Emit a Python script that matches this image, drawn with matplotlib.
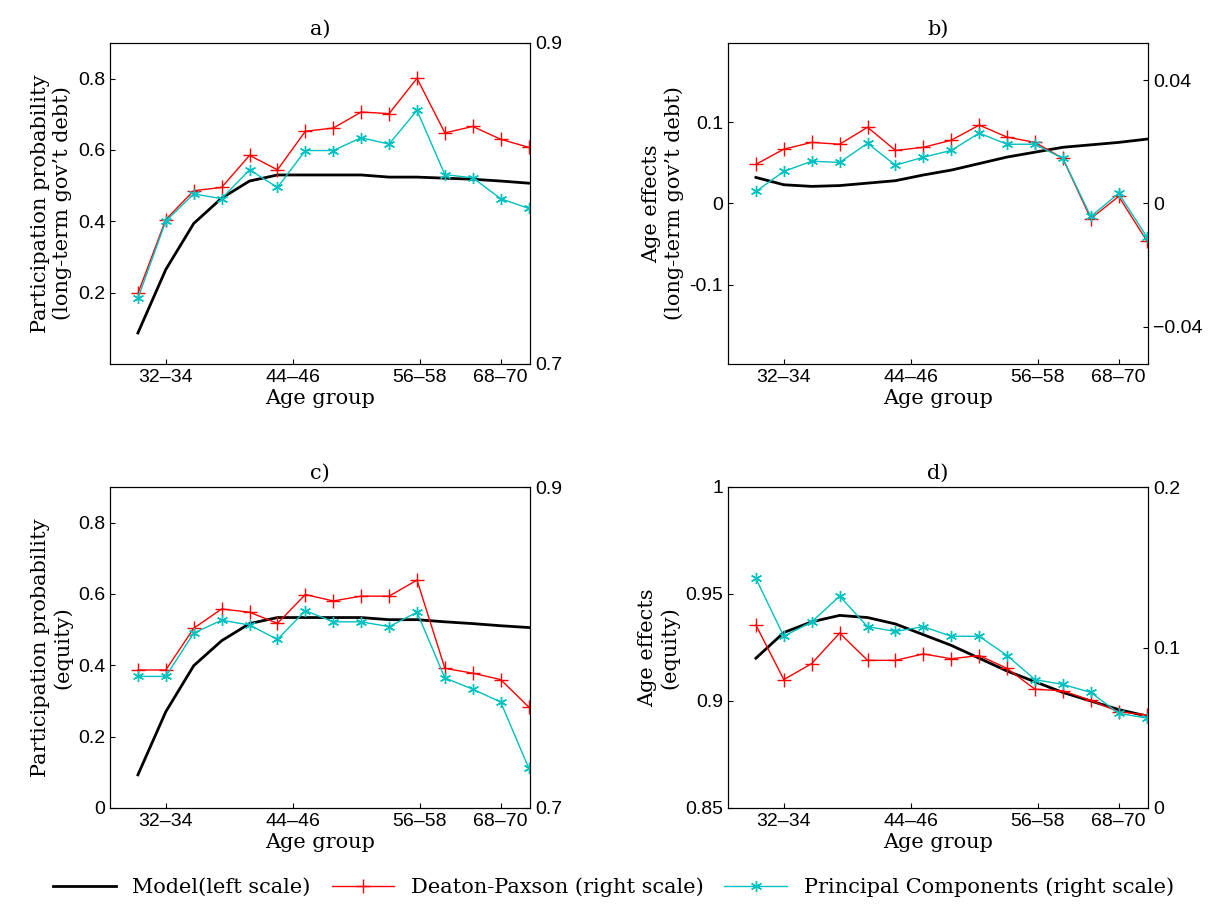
import matplotlib.pyplot as plt
import numpy as np

x = np.arange(15)
tick_pos = [1, 5.57, 10.1, 13]
tick_lab = ["32\u201334", "44\u201346", "56\u201358", "68\u201370"]

model_ab = [0.087, 0.265, 0.394, 0.465, 0.513, 0.530, 0.530, 0.530, 0.530, 0.524, 0.524, 0.521, 0.518, 0.513, 0.507]
dp_a = [0.744, 0.790, 0.808, 0.810, 0.830, 0.821, 0.845, 0.847, 0.857, 0.856, 0.878, 0.844, 0.848, 0.840, 0.835]
pc_a = [0.741, 0.789, 0.806, 0.803, 0.821, 0.810, 0.833, 0.833, 0.841, 0.837, 0.858, 0.818, 0.816, 0.803, 0.797]

model_b = [0.032, 0.023, 0.021, 0.022, 0.025, 0.028, 0.035, 0.041, 0.049, 0.057, 0.063, 0.069, 0.072, 0.075, 0.079]
dp_b = [0.0127, 0.0176, 0.0198, 0.0192, 0.0247, 0.0172, 0.0182, 0.0205, 0.0254, 0.0215, 0.0198, 0.0146, -0.0049, 0.0023, -0.0120]
pc_b = [0.0039, 0.0104, 0.0137, 0.0133, 0.0195, 0.0124, 0.0150, 0.0172, 0.0228, 0.0192, 0.0192, 0.0146, -0.0042, 0.0033, -0.0107]

model_c = [0.093, 0.270, 0.399, 0.469, 0.517, 0.534, 0.534, 0.534, 0.534, 0.528, 0.528, 0.522, 0.517, 0.511, 0.506]
dp_c = [0.786, 0.786, 0.812, 0.824, 0.822, 0.815, 0.833, 0.829, 0.832, 0.832, 0.842, 0.787, 0.784, 0.780, 0.763]
pc_c = [0.782, 0.782, 0.809, 0.817, 0.814, 0.805, 0.823, 0.816, 0.816, 0.813, 0.822, 0.781, 0.774, 0.766, 0.725]

model_d = [0.920, 0.932, 0.937, 0.940, 0.939, 0.936, 0.931, 0.926, 0.920, 0.914, 0.909, 0.904, 0.900, 0.896, 0.893]
dp_d = [0.114, 0.080, 0.090, 0.109, 0.092, 0.092, 0.096, 0.093, 0.095, 0.087, 0.074, 0.073, 0.067, 0.060, 0.058]
pc_d = [0.143, 0.107, 0.116, 0.132, 0.113, 0.110, 0.113, 0.107, 0.107, 0.095, 0.080, 0.077, 0.072, 0.059, 0.056]

serif = "DejaVu Serif"
plt.rcParams["font.family"] = "Liberation Sans"
plt.rcParams["font.size"] = 14
plt.rcParams["xtick.direction"] = "in"
plt.rcParams["ytick.direction"] = "in"

fig = plt.figure(figsize=(12.27, 9.11), dpi=100)
W, H = 1227, 911

panels = [
    ("a)", (110, 43), model_ab, dp_a, pc_a, (0, 0.9), [0.2, 0.4, 0.6, 0.8], (0.7, 0.9), [0.7, 0.9],
     "Participation probability\n(long-term gov\u2019t debt)"),
    ("b)", (728, 43), model_b, dp_b, pc_b, (-0.197, 0.197), [-0.1, 0, 0.1], (-0.052, 0.052), [-0.04, 0, 0.04],
     "Age effects\n(long-term gov\u2019t debt)"),
    ("c)", (110, 487), model_c, dp_c, pc_c, (0, 0.9), [0, 0.2, 0.4, 0.6, 0.8], (0.7, 0.9), [0.7, 0.9],
     "Participation probability\n(equity)"),
    ("d)", (728, 487), model_d, dp_d, pc_d, (0.85, 1.0), [0.85, 0.9, 0.95, 1], (0, 0.2), [0, 0.1, 0.2],
     "Age effects\n(equity)"),
]

handles = None
for title, (px, py), m, dp, pc, yl, yt, yr, yrt, ylab in panels:
    ax = fig.add_axes([px / W, 1 - (py + 321) / H, 420 / W, 321 / H])
    ax2 = ax.twinx()
    l1, = ax.plot(x, m, color="black", lw=2)
    l2, = ax2.plot(x, dp, color="red", lw=1, marker="+", ms=10, mew=1)
    l3, = ax2.plot(x, pc, color="#00c0c0", lw=1, marker=(6, 2, 0), ms=8, mew=1)
    handles = [l1, l2, l3]
    ax.set_xlim(-1, 14.05)
    ax.set_ylim(*yl)
    ax.set_yticks(yt)
    ax.set_yticklabels([("%g" % v) for v in yt])
    ax2.set_ylim(*yr)
    ax2.set_yticks(yrt)
    ax2.set_yticklabels([("%g" % v).replace("-", "\u2212") for v in yrt])
    ax.set_xticks(tick_pos)
    ax.set_xticklabels(tick_lab)
    ax.set_title(title, family=serif, fontsize=15)
    ax.set_xlabel("Age group", family=serif, fontsize=15, labelpad=2)
    ax.set_ylabel(ylab, family=serif, fontsize=15, labelpad=4)

fig.legend(handles, ["Model(left scale)", "Deaton-Paxson (right scale)", "Principal Components (right scale)"],
           loc="lower center", ncol=3, frameon=False, bbox_to_anchor=(0.5, -0.005),
           prop={"family": serif, "size": 15}, handlelength=3, columnspacing=1.0)

fig.savefig("out.png", dpi=100)
